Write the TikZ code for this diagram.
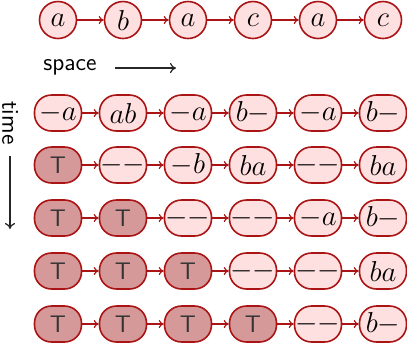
\documentclass[tikz,border=0pt]{standalone}
\usetikzlibrary{arrows.meta}
\definecolor{cellline}{RGB}{170,20,20}
\definecolor{cellfill}{RGB}{255,224,224}
\definecolor{donefill}{RGB}{213,153,153}
\tikzset{
  cell/.style={draw=cellline, fill=cellfill, thick, rounded corners=8.5pt,
    minimum width=23.5pt, minimum height=18pt, inner sep=0pt, font=\Large},
  done/.style={cell, fill=donefill, text=black!80, font=\large\sffamily},
  letter/.style={draw=cellline, fill=cellfill, thick, circle,
    minimum size=18.5pt, inner sep=0pt, font=\Large},
  link/.style={-{To[length=2.5pt,width=4pt]}, draw=cellline, semithick},
  axis/.style={-{To[length=3pt,width=5pt]}, black!85, semithick},
}
\begin{document}
\begin{tikzpicture}[x=0.5pt, y=-0.5pt]
  \useasboundingbox (0,0) rectangle (407,344);
  % Input word
  \foreach \x/\c [count=\i] in {58/a, 123/b, 188/a, 253/c, 318/a, 383/c} {
    \node[letter] (w\i) at (\x,20) {$\c$};
  }
  \foreach \i [evaluate=\i as \j using int(\i+1)] in {1,...,5} {
    \draw[link] (w\i) -- (w\j);
  }
  % Axes
  \node[font=\large\sffamily, anchor=west, inner sep=0pt] (space) at (43,67) {space};
  \coordinate (sa) at (115,68);
  \coordinate (sb) at (176,68);
  \draw[axis] (sa) -- (sb);
  \node[font=\large\sffamily, rotate=-90, inner sep=0pt] (time) at (10,123) {time};
  \coordinate (ta) at (10,156);
  \coordinate (tb) at (10,229);
  \draw[axis] (ta) -- (tb);
  % Rows of the run
  \foreach \y/\row [count=\r] in {
      113/{$-a$,$ab$,$-a$,$b-$,$-a$,$b-$},
      165/{T,$--$,$-b$,$ba$,$--$,$ba$},
      218/{T,T,$--$,$--$,$-a$,$b-$},
      271/{T,T,T,$--$,$--$,$ba$},
      324/{T,T,T,T,$--$,$b-$}} {
    \foreach \t [count=\i] in \row {
      \pgfmathsetmacro{\x}{58+65*(\i-1)}
      \if T\t
        \node[done] (c\r-\i) at (\x,\y) {T};
      \else
        \node[cell] (c\r-\i) at (\x,\y) {\t};
      \fi
    }
    \foreach \i [evaluate=\i as \j using int(\i+1)] in {1,...,5} {
      \draw[link] (c\r-\i) -- (c\r-\j);
    }
  }
\end{tikzpicture}
\end{document}
